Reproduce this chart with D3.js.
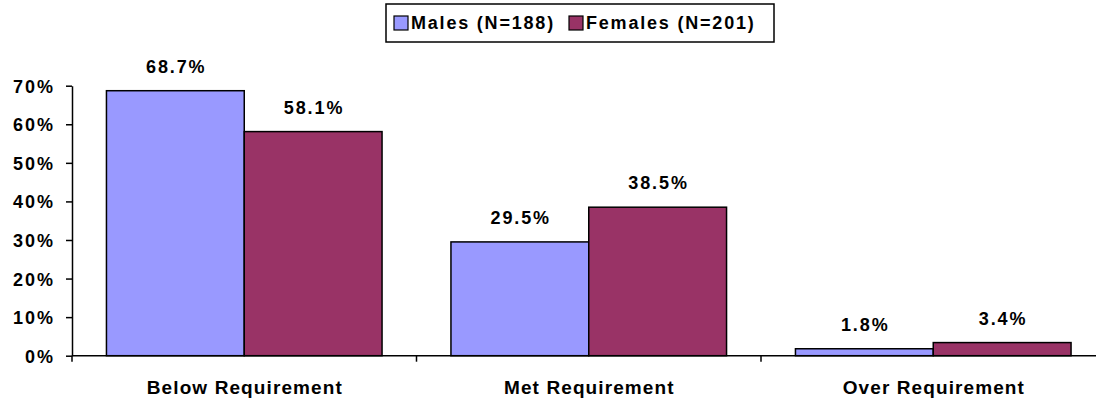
<!DOCTYPE html>
<html>
<head>
<meta charset="utf-8">
<script src="https://cdn.jsdelivr.net/npm/d3@7"></script>
<style>
  html, body { margin: 0; padding: 0; background: #fff; }
  svg { display: block; }
  text { font-family: "Liberation Sans", Arial, Helvetica, sans-serif; font-weight: bold; fill: #000; }
</style>
</head>
<body>
<svg id="chart" width="1096" height="399"></svg>
<script>
const categories = ["Below Requirement", "Met Requirement", "Over Requirement"];
const seriesNames = ["Males (N=188)", "Females (N=201)"];
const males = [68.7, 29.5, 1.8];
const females = [58.1, 38.5, 3.4];
const yTicks = [0, 10, 20, 30, 40, 50, 60, 70];
const colors = ["#9999FF", "#993366"];

const svg = d3.select("#chart");
const plotLeft = 72, catStep = 344.5;
const x0 = d3.scaleBand().domain(categories)
  .range([plotLeft, plotLeft + catStep * categories.length]).paddingInner(0).paddingOuter(0);
const x1 = d3.scaleBand().domain(seriesNames).range([0, x0.bandwidth()])
  .paddingInner(0).paddingOuter(0.25);
const y = d3.scaleLinear().domain([0, 70]).range([355.7, 85.7]);

const seriesData = [males, females];
const rows = categories.map((c, i) => ({
  cat: c,
  vals: seriesNames.map((s, j) => ({ s, j, v: seriesData[j][i] }))
}));

// bars
const g = svg.selectAll("g.cat").data(rows).join("g")
  .attr("class", "cat")
  .attr("transform", d => `translate(${x0(d.cat)},0)`);
g.selectAll("rect").data(d => d.vals).join("rect")
  .attr("x", d => x1(d.s))
  .attr("y", d => y(d.v))
  .attr("width", x1.bandwidth())
  .attr("height", d => y(0) - y(d.v))
  .attr("fill", d => colors[d.j])
  .attr("stroke", "#000")
  .attr("stroke-width", 1.5);
// value labels
g.selectAll("text.val").data(d => d.vals).join("text")
  .attr("class", "val")
  .attr("x", d => x1(d.s) + x1.bandwidth() / 2 + 0.9)
  .attr("y", d => y(d.v) - 18)
  .attr("text-anchor", "middle")
  .style("font-size", "18px")
  .style("letter-spacing", "1.9px")
  .text(d => d.v.toFixed(1) + "%");

// y axis
const yAxis = d3.axisLeft(y).tickValues(yTicks).tickFormat(d => d + "%")
  .tickSize(6).tickSizeOuter(0).tickPadding(11);
const ya = svg.append("g").attr("transform", `translate(${plotLeft},0)`).call(yAxis);
ya.select(".domain").attr("stroke", "#000").attr("stroke-width", 1.5);
ya.selectAll(".tick line").attr("stroke", "#000").attr("stroke-width", 1.5);
ya.selectAll(".tick text")
  .style("font-size", "18px").style("letter-spacing", "2px")
  .attr("dy", "0.36em");

// x axis line
svg.append("line")
  .attr("x1", plotLeft).attr("x2", 1096)
  .attr("y1", y(0)).attr("y2", y(0))
  .attr("stroke", "#000").attr("stroke-width", 1.5);
// boundary ticks
svg.selectAll("line.xt").data(categories).join("line")
  .attr("class", "xt")
  .attr("x1", d => x0(d)).attr("x2", d => x0(d))
  .attr("y1", y(0)).attr("y2", y(0) + 6)
  .attr("stroke", "#000").attr("stroke-width", 1.5);
// category labels
svg.selectAll("text.cl").data(categories).join("text")
  .attr("class", "cl")
  .attr("x", d => x0(d) + x0.bandwidth() / 2 + 0.6)
  .attr("y", 394.3)
  .attr("text-anchor", "middle")
  .style("font-size", "19px")
  .style("letter-spacing", "1.1px")
  .text(d => d);

// legend
const leg = svg.append("g");
leg.append("rect").attr("x", 386).attr("y", 4).attr("width", 388).attr("height", 38)
  .attr("fill", "#fff").attr("stroke", "#000").attr("stroke-width", 1.5);
const legX = [394, 569];
const li = leg.selectAll("g.li").data(seriesNames).join("g").attr("class", "li")
  .attr("transform", (d, i) => `translate(${legX[i]},0)`);
li.append("rect").attr("x", 0).attr("y", 16).attr("width", 14).attr("height", 14)
  .attr("fill", (d, i) => colors[i]).attr("stroke", "#000").attr("stroke-width", 1.2);
li.append("text").attr("x", 17).attr("y", 29.3)
  .style("font-size", "18px").style("letter-spacing", "1.8px")
  .text(d => d);
</script>
</body>
</html>
